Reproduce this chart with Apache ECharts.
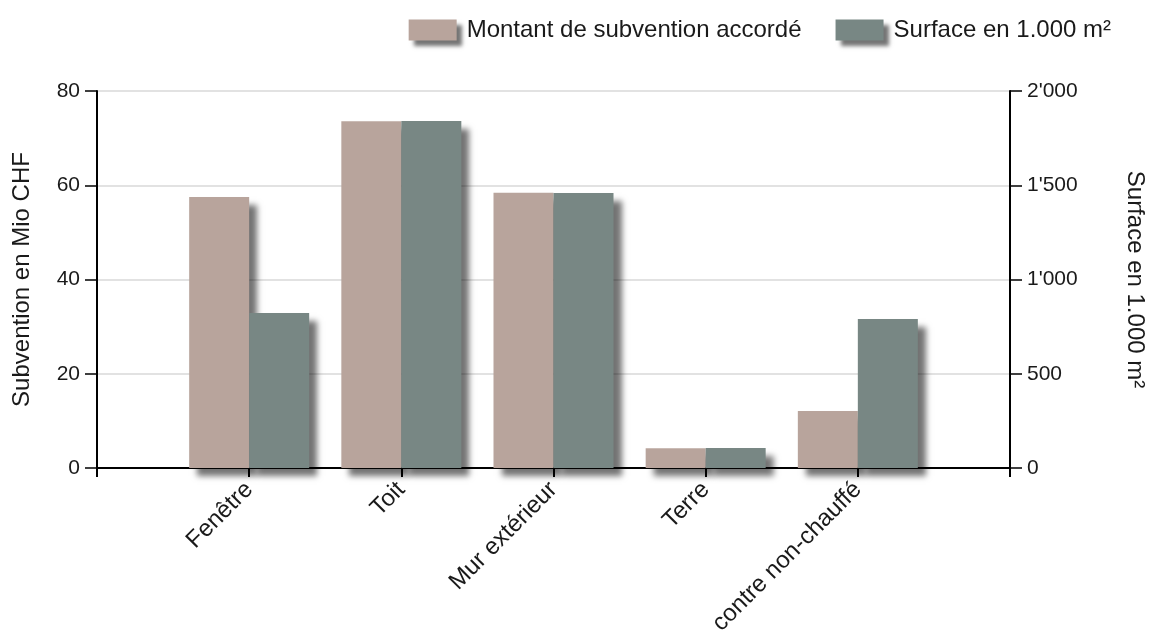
<!DOCTYPE html>
<html>
<head>
<meta charset="utf-8">
<style>
  html, body { margin: 0; padding: 0; background: #fff; }
  #chart { width: 1150px; height: 633px; }
</style>
<script src="https://cdn.jsdelivr.net/npm/echarts@6/dist/echarts.min.js"></script>
</head>
<body>
<div id="chart"></div>
<script>
// empty slots at both ends keep the bars off the axis lines
const categories = ["", "Fenêtre", "Toit", "Mur extérieur", "Terre", "contre non-chauffé", ""];
const montant = [null, 57.5, 73.6, 58.4, 4.2, 12.1, null];
const surface = [null, 822, 1841, 1459, 106, 790, null];
const leftTicks = { min: 0, max: 80, interval: 20 };
const rightTicks = { min: 0, max: 2000, interval: 500 };

const font = "Liberation Sans, Arial, sans-serif";
const textColor = "#1a1a1a";

function swissNumber(value) {
  return String(value).replace(/\B(?=(\d{3})+(?!\d))/g, "'");
}

const shadow = {
  shadowBlur: 6,
  shadowOffsetX: 8,
  shadowOffsetY: 8,
  shadowColor: "rgba(0, 0, 0, 0.55)",
};

const legendShadow = {
  shadowBlur: 4,
  shadowOffsetX: 5,
  shadowOffsetY: 5,
  shadowColor: "rgba(0, 0, 0, 0.55)",
};

const chart = echarts.init(document.getElementById("chart"));
chart.setOption({
  animation: false,
  textStyle: { fontFamily: font },
  legend: {
    top: 13,
    right: 34,
    itemWidth: 48,
    itemHeight: 21,
    itemGap: 34,
    textStyle: { fontSize: 24, color: textColor, fontFamily: font, padding: [0, 0, 0, 5] },
    data: [
      { name: "Montant de subvention accordé", icon: "rect", itemStyle: legendShadow },
      { name: "Surface en 1.000 m²", icon: "rect", itemStyle: legendShadow },
    ],
  },
  grid: { left: 97, right: 140, top: 91, bottom: 165, outerBoundsMode: "none" },
  xAxis: {
    type: "category",
    data: categories,
    boundaryGap: false,
    axisLine: { lineStyle: { color: "#000", width: 2 } },
    axisTick: { show: true, length: 9, lineStyle: { color: "#000", width: 2 } },
    axisLabel: { rotate: 45, fontSize: 24, color: textColor, margin: 18, interval: 0 },
    splitLine: { show: false },
  },
  yAxis: [
    {
      type: "value",
      ...leftTicks,
      name: "Subvention en Mio CHF",
      nameLocation: "middle",
      nameRotate: 90,
      nameGap: 63,
      nameTextStyle: { fontSize: 24, color: textColor },
      axisLine: { show: true, lineStyle: { color: "#000", width: 2 } },
      axisTick: { show: true, length: 12, lineStyle: { color: "#000", width: 1.5 } },
      axisLabel: { fontSize: 21, color: textColor, margin: 17 },
      splitLine: { show: true, lineStyle: { color: "#d9d9d9", width: 1.5 } },
    },
    {
      type: "value",
      ...rightTicks,
      position: "right",
      name: "Surface en 1.000 m²",
      nameLocation: "middle",
      nameRotate: -90,
      nameGap: 113,
      nameTextStyle: { fontSize: 24, color: textColor },
      axisLine: { show: true, lineStyle: { color: "#000", width: 2 } },
      axisTick: { show: true, length: 12, lineStyle: { color: "#000", width: 1.5 } },
      axisLabel: { fontSize: 21, color: textColor, margin: 17, formatter: swissNumber },
      splitLine: { show: false },
    },
  ],
  series: [
    {
      name: "Montant de subvention accordé",
      type: "bar",
      yAxisIndex: 0,
      data: montant,
      barWidth: 60,
      barGap: "0%",
      itemStyle: { color: "#b8a49c", ...shadow },
    },
    {
      name: "Surface en 1.000 m²",
      type: "bar",
      yAxisIndex: 1,
      data: surface,
      barWidth: 60,
      barGap: "0%",
      itemStyle: { color: "#788784", ...shadow },
    },
  ],
});
</script>
</body>
</html>
